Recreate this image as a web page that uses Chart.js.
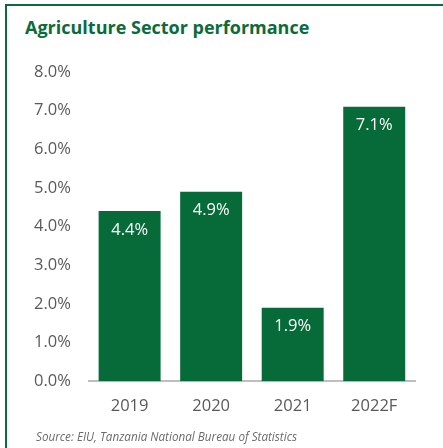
<!DOCTYPE html>
<html>
<head>
<meta charset="utf-8">
<script src="https://cdn.jsdelivr.net/npm/chart.js@4"></script>
<style>
    html, body { margin: 0; padding: 0; background: #fff; }
    body { width: 443px; height: 448px; position: relative; overflow: hidden; font-family: 'Open Sans', sans-serif; }
    .frame {
        position: absolute; left: 5px; top: 4px; right: -10px; bottom: -10px;
        border-left: 2px solid #0b6b3a; border-top: 2px solid #0b6b3a;
    }
    .title {
        position: absolute; left: 25px; top: 15px;
        font-weight: 700; font-size: 18px; color: #0b6b3a; white-space: nowrap;
    }
    .source {
        position: absolute; left: 36px; top: 428px;
        font-style: italic; font-size: 11.7px; color: #6b6b6b; white-space: nowrap;
    }
    #chartWrap { position: absolute; left: 0; top: 44px; width: 443px; height: 387px; }
</style>
</head>
<body>
<div class="frame"></div>
<div class="title">Agriculture Sector performance</div>
<div id="chartWrap"><canvas id="agriChart"></canvas></div>
<div class="source">Source: EIU, Tanzania National Bureau of Statistics</div>
<script>
const YEARS = ['2019', '2020', '2021', '2022F'];
const GROWTH = [4.4, 4.9, 1.9, 7.1];
const Y_TICKS = [0, 1, 2, 3, 4, 5, 6, 7, 8];

const BAR_GREEN = '#066b38';
const TEXT_GREY = '#595959';

// draw the value labels inside the top of each bar
const barLabels = {
    id: 'barLabels',
    afterDatasetsDraw(chart) {
        const ctx = chart.ctx;
        const meta = chart.getDatasetMeta(0);
        ctx.save();
        ctx.fillStyle = '#ffffff';
        ctx.font = '16.5px "Open Sans"';
        ctx.textAlign = 'center';
        ctx.textBaseline = 'middle';
        meta.data.forEach((bar, i) => {
            ctx.fillText(GROWTH[i].toFixed(1) + '%', bar.x, bar.y + 19);
        });
        ctx.restore();
    }
};

new Chart(document.getElementById('agriChart'), {
    type: 'bar',
    data: {
        labels: YEARS,
        datasets: [{
            data: GROWTH,
            backgroundColor: BAR_GREEN,
            borderWidth: 0,
            categoryPercentage: 1,
            barPercentage: 0.76
        }]
    },
    options: {
        responsive: true,
        maintainAspectRatio: false,
        animation: false,
        layout: {
            padding: { left: 16, right: 28, top: 14, bottom: 0 }
        },
        plugins: {
            legend: { display: false },
            tooltip: { enabled: false }
        },
        scales: {
            y: {
                min: 0,
                max: 8,
                afterBuildTicks: axis => {
                    axis.ticks = Y_TICKS.map(v => ({ value: v }));
                },
                grid: { display: false, drawTicks: false },
                border: { display: false },
                ticks: {
                    padding: 18,
                    color: TEXT_GREY,
                    font: { family: 'Open Sans', size: 16.5 },
                    callback: value => value.toFixed(1) + '%'
                }
            },
            x: {
                grid: { display: false, drawTicks: false },
                border: { display: true, color: '#bfbfbf', width: 2 },
                ticks: {
                    padding: 15,
                    color: TEXT_GREY,
                    font: { family: 'Open Sans', size: 16.5 }
                }
            }
        }
    },
    plugins: [barLabels]
});
</script>
</body>
</html>
